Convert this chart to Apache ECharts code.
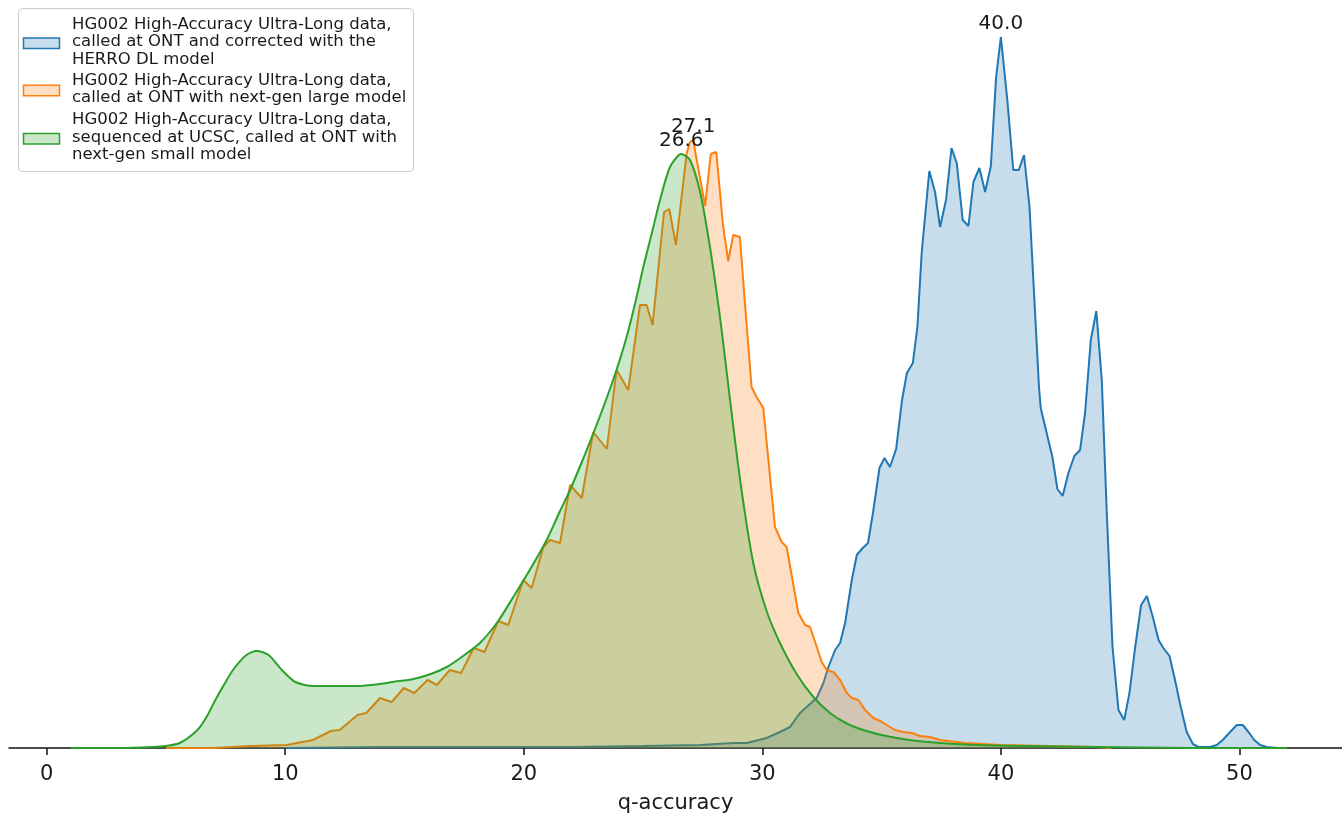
<!DOCTYPE html>
<html>
<head>
<meta charset="utf-8">
<title>q-accuracy distributions</title>
<script src="https://cdn.jsdelivr.net/npm/echarts@6/dist/echarts.min.js"></script>
<style>
  html, body { margin: 0; padding: 0; background: #ffffff; }
  #chart { width: 1342px; height: 817px; }
</style>
</head>
<body>
<div id="chart"></div>
<script>
// Tick labels on the q-accuracy axis
const xTicks = [0, 10, 20, 30, 40, 50];

// Series names (also shown in the legend)
const seriesNames = [
  'HG002 High-Accuracy Ultra-Long data,\ncalled at ONT and corrected with the\nHERRO DL model',
  'HG002 High-Accuracy Ultra-Long data,\ncalled at ONT with next-gen large model',
  'HG002 High-Accuracy Ultra-Long data,\nsequenced at UCSC, called at ONT with\nnext-gen small model'
];

// Density curves as [q-accuracy, density x 1e4]
const herroDensity = [
  [10, 0], [14, 1], [18, 1], [22, 1], [25, 2], [27.4, 3], [28.8, 5], [29.35, 5], [30.18, 10],
  [30.74, 16], [31.16, 21], [31.58, 35], [31.86, 41], [32.28, 50], [32.56, 65], [32.77, 81],
  [33.05, 98], [33.26, 105], [33.47, 125], [33.75, 168], [33.96, 193], [34.21, 200], [34.43, 205],
  [34.65, 237], [34.91, 280], [35.12, 290], [35.35, 281], [35.61, 299], [35.85, 347], [36.06, 375],
  [36.31, 385], [36.5, 421], [36.68, 495], [37.0, 577], [37.24, 556], [37.45, 521], [37.7, 548],
  [37.93, 600], [38.15, 585], [38.4, 528], [38.64, 522], [38.85, 566], [39.1, 580], [39.34, 556],
  [39.58, 582], [39.8, 671], [40.0, 711], [40.27, 648], [40.52, 578], [40.75, 578], [40.97, 593],
  [41.2, 541], [41.6, 360], [41.67, 340], [41.92, 315], [42.16, 291], [42.37, 259], [42.59, 252],
  [42.83, 275], [43.08, 292], [43.32, 298], [43.53, 335], [43.77, 408], [44.0, 437], [44.23, 368],
  [44.44, 235], [44.68, 101], [44.93, 38], [45.17, 28], [45.39, 55], [45.63, 101], [45.88, 143],
  [46.12, 152], [46.37, 131], [46.61, 108], [46.81, 100], [47.07, 92], [47.3, 68], [47.54, 41],
  [47.79, 16], [48.05, 4], [48.28, 1], [48.77, 1], [49.05, 3], [49.3, 8], [49.61, 16], [49.89, 23],
  [50.14, 23], [50.38, 16], [50.62, 8], [50.87, 3], [51.15, 1], [51.6, 0]
];

const largeModelDensity = [
  [5, 0], [7, 0], [8.56, 2], [10.05, 3], [11.16, 8], [11.91, 17], [12.28, 18], [13.03, 33],
  [13.4, 35], [13.97, 50], [14.46, 46], [14.97, 60], [15.41, 55], [15.97, 68], [16.36, 63],
  [16.9, 78], [17.37, 75], [17.9, 100], [18.35, 96], [18.93, 127], [19.35, 123], [19.98, 168],
  [20.33, 160], [20.82, 201], [21.1, 208], [21.52, 205], [21.94, 263], [22.43, 250], [22.91, 316],
  [23.48, 299], [23.89, 378], [24.38, 358], [24.87, 443], [25.15, 443], [25.4, 423], [25.88, 536],
  [26.1, 539], [26.38, 503], [26.83, 595], [26.97, 606], [27.1, 608], [27.6, 542], [27.84, 594],
  [28.07, 596], [28.35, 523], [28.57, 487], [28.78, 513], [29.06, 511], [29.27, 445], [29.55, 361],
  [29.76, 351], [30.04, 340], [30.53, 221], [30.81, 206], [31.02, 201], [31.51, 135], [31.79, 123],
  [32.0, 121], [32.28, 101], [32.49, 86], [32.7, 78], [32.98, 76], [33.26, 68], [33.54, 55],
  [33.75, 50], [34.03, 48], [34.31, 38], [34.65, 30], [34.94, 27], [35.22, 23], [35.56, 18],
  [35.91, 16], [36.26, 15], [36.61, 12], [37.03, 11], [37.45, 8], [38.5, 5], [40, 3], [42, 2],
  [44, 1], [44.6, 0]
];

const smallModelDensity = [
  [1, 0], [3, 0], [4.45, 1], [5.0, 2], [5.58, 5], [6.32, 18], [6.7, 31], [7.07, 48], [7.45, 64],
  [7.81, 78], [8.37, 93], [8.8, 97], [9.3, 93], [9.86, 78], [10.42, 66], [11.16, 62], [12.0, 62],
  [13.03, 62], [13.97, 64], [14.5, 66], [15.37, 69], [16.1, 74], [16.77, 81], [17.4, 91],
  [18.16, 105], [18.9, 126], [19.56, 151], [20.3, 180], [20.96, 208], [21.5, 236], [21.94, 258],
  [22.45, 287], [22.92, 315], [23.4, 345], [23.9, 379], [24.31, 411], [24.7, 448], [25.01, 481],
  [25.4, 518], [25.71, 548], [26.13, 581], [26.6, 594], [26.97, 588], [27.39, 556], [27.81, 500],
  [28.23, 430], [28.51, 375], [29.07, 268], [29.62, 185], [30.18, 137], [30.74, 105], [31.44, 74],
  [32.14, 51], [32.84, 35], [33.5, 25], [34.23, 18], [35.0, 13], [35.64, 10], [36.5, 7],
  [37.45, 5], [39, 3], [41, 2], [44, 1], [48, 0], [52, 0]
];

const lineColors = ['#1f77b4', '#ff7f0e', '#2ca02c'];
const fillColors = ['rgba(31,119,180,0.25)', 'rgba(255,127,14,0.25)', 'rgba(44,160,44,0.25)'];
const FONT = 'DejaVu Sans, Verdana, sans-serif';

// One filled density curve with its mode annotated above the peak
function densitySeries(idx, data, smooth) {
  const peak = data.reduce((a, b) => (b[1] > a[1] ? b : a));
  return {
    type: 'line',
    name: seriesNames[idx],
    data: data,
    symbol: 'none',
    showSymbol: false,
    smooth: smooth,
    lineStyle: { color: lineColors[idx], width: 2 },
    itemStyle: { color: lineColors[idx] },
    areaStyle: { color: fillColors[idx], opacity: 1, origin: 'start' },
    z: 2 + idx,
    markPoint: {
      symbol: 'circle',
      symbolSize: 0,
      silent: true,
      data: [{ coord: peak, value: peak[0].toFixed(1) }],
      label: {
        show: true, position: 'top', distance: 3, formatter: '{c}',
        fontFamily: FONT, fontSize: 20, color: '#1a1a1a'
      }
    }
  };
}

// Legend drawn as a framed box of patches and wrapped labels
const legendTop = [15.75, 71.75, 111.25];
const legendGraphics = [{
  type: 'rect', z: 100,
  shape: { x: 18.5, y: 8.5, width: 395, height: 163, r: 4 },
  style: { fill: 'rgba(255,255,255,0.8)', stroke: '#cccccc', lineWidth: 1 }
}];
seriesNames.forEach((name, i) => {
  const lines = name.split('\n').length;
  const mid = legendTop[i] + lines * 17.5 / 2;
  legendGraphics.push({
    type: 'rect', z: 101,
    shape: { x: 23.5, y: mid - 4, width: 36, height: 10.5 },
    style: { fill: fillColors[i], stroke: lineColors[i], lineWidth: 1.5 }
  });
  legendGraphics.push({
    type: 'text', z: 101, x: 72, y: legendTop[i],
    style: { text: name, font: '16.5px ' + FONT, lineHeight: 17.5, fill: '#1a1a1a', verticalAlign: 'top' }
  });
});

const chart = echarts.init(document.getElementById('chart'), null, { renderer: 'canvas' });
chart.setOption({
  animation: false,
  backgroundColor: '#ffffff',
  grid: { left: 9, right: 0, top: 0, bottom: 69, outerBoundsMode: 'none' },
  xAxis: {
    type: 'value',
    min: -1.58,
    max: 54.3,
    name: 'q-accuracy',
    nameLocation: 'middle',
    nameGap: 45,
    nameTextStyle: { fontFamily: FONT, fontSize: 21, color: '#1a1a1a' },
    axisLine: { show: true, onZero: false, lineStyle: { color: '#111111', width: 1.5 } },
    axisTick: { show: true, customValues: xTicks, length: 7, lineStyle: { color: '#111111', width: 1.5 } },
    axisLabel: { customValues: xTicks, fontFamily: FONT, fontSize: 21, color: '#1a1a1a', margin: 16 },
    splitLine: { show: false }
  },
  yAxis: { type: 'value', min: 0, max: 748, show: false, splitLine: { show: false } },
  series: [
    densitySeries(0, herroDensity, false),
    densitySeries(1, largeModelDensity, false),
    densitySeries(2, smallModelDensity, 0.25)
  ],
  graphic: legendGraphics
});
</script>
</body>
</html>
